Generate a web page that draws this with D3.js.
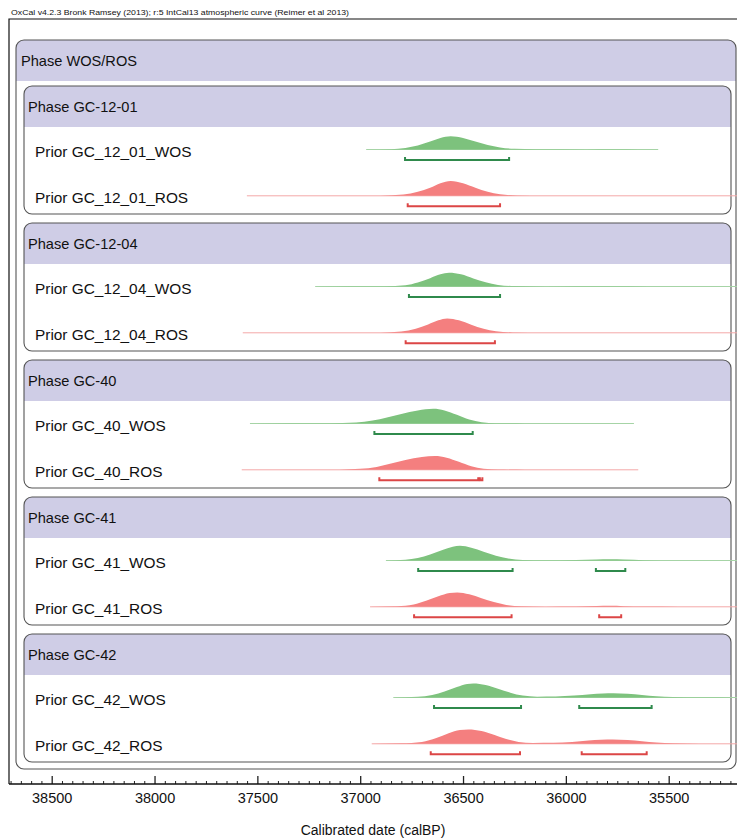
<!DOCTYPE html>
<html>
<head>
<meta charset="utf-8">
<script src="https://cdn.jsdelivr.net/npm/d3@7"></script>
<style>
  body { margin: 0; background: #fff; }
  text { font-family: "Liberation Sans", Arial, sans-serif; fill: #111; }
</style>
</head>
<body>
<svg id="chart"></svg>
<script>
// ---- data ----
const headerNote = "OxCal v4.2.3 Bronk Ramsey (2013); r:5 IntCal13 atmospheric curve (Reimer et al 2013)";
const outerPhase = "Phase WOS/ROS";
const phaseNames = ["GC-12-01", "GC-12-04", "GC-40", "GC-41", "GC-42"];
const wosLabels = ["Prior GC_12_01_WOS", "Prior GC_12_04_WOS", "Prior GC_40_WOS", "Prior GC_41_WOS", "Prior GC_42_WOS"];
const rosLabels = ["Prior GC_12_01_ROS", "Prior GC_12_04_ROS", "Prior GC_40_ROS", "Prior GC_41_ROS", "Prior GC_42_ROS"];
const majorTicks = [38500, 38000, 37500, 37000, 36500, 36000, 35500];
const axisTitle = "Calibrated date (calBP)";

// [year calBP, relative probability]
const wosDensity = [
  [[36971,0],[36850,0.02],[36780,0.1],[36720,0.25],[36660,0.5],[36610,0.72],[36560,0.83],[36500,0.72],[36440,0.5],[36380,0.28],[36320,0.13],[36250,0.04],[36150,0.01],[35900,0.005],[35760,0.012],[35650,0.005],[35551,0]],
  [[37219,0],[36880,0.01],[36780,0.08],[36720,0.25],[36660,0.52],[36610,0.76],[36568,0.86],[36510,0.76],[36450,0.5],[36390,0.26],[36330,0.1],[36250,0.03],[36100,0.005],[35800,0.01],[35600,0.005],[34900,0]],
  [[37536,0],[37150,0.01],[37020,0.06],[36940,0.18],[36870,0.38],[36800,0.6],[36720,0.82],[36645,0.92],[36590,0.82],[36530,0.55],[36470,0.25],[36410,0.08],[36340,0.02],[36200,0.005],[35669,0]],
  [[36875,0],[36780,0.04],[36720,0.15],[36660,0.38],[36600,0.66],[36550,0.86],[36515,0.92],[36460,0.8],[36400,0.55],[36340,0.3],[36280,0.12],[36210,0.03],[36100,0.01],[35950,0.03],[35850,0.07],[35786,0.08],[35720,0.06],[35620,0.02],[35450,0.005],[34900,0]],
  [[36839,0],[36720,0.04],[36650,0.15],[36590,0.38],[36530,0.65],[36480,0.84],[36450,0.875],[36390,0.78],[36330,0.55],[36270,0.3],[36210,0.12],[36140,0.05],[36050,0.06],[35960,0.12],[35880,0.2],[35820,0.25],[35769,0.27],[35700,0.24],[35630,0.16],[35560,0.08],[35480,0.03],[35350,0.01],[34900,0]]
];
const rosDensity = [
  [[37551,0],[36900,0.01],[36790,0.08],[36720,0.25],[36660,0.5],[36610,0.78],[36560,0.92],[36500,0.78],[36440,0.5],[36380,0.25],[36320,0.1],[36240,0.02],[36100,0.005],[34900,0]],
  [[37571,0],[36900,0.01],[36800,0.08],[36730,0.25],[36670,0.52],[36620,0.78],[36577,0.9],[36520,0.78],[36460,0.5],[36400,0.25],[36340,0.1],[36260,0.02],[36100,0.005],[34900,0]],
  [[37576,0],[37100,0.01],[37000,0.06],[36920,0.18],[36850,0.4],[36780,0.62],[36700,0.8],[36637,0.86],[36580,0.76],[36520,0.5],[36460,0.22],[36400,0.07],[36330,0.02],[36200,0.005],[35648,0]],
  [[36952,0],[36820,0.03],[36740,0.14],[36680,0.38],[36620,0.66],[36565,0.86],[36528,0.9],[36470,0.78],[36410,0.54],[36350,0.3],[36290,0.12],[36220,0.03],[36100,0.01],[35950,0.02],[35850,0.05],[35786,0.06],[35720,0.04],[35620,0.015],[35450,0.005],[34900,0]],
  [[36944,0],[36800,0.03],[36700,0.12],[36630,0.36],[36570,0.66],[36515,0.86],[36474,0.9],[36410,0.8],[36350,0.56],[36290,0.3],[36230,0.12],[36160,0.05],[36060,0.06],[35970,0.12],[35890,0.2],[35830,0.25],[35771,0.27],[35700,0.24],[35630,0.16],[35560,0.08],[35480,0.03],[35350,0.01],[34900,0]]
];
// 95.4% ranges [from, to]
const wosRanges = [
  [[36782,36276]],
  [[36763,36320]],
  [[36931,36453]],
  [[36718,36259],[35854,35711]],
  [[36641,36218],[35935,35583]]
];
const rosRanges = [
  [[36769,36320]],
  [[36779,36345]],
  [[36907,36426],[36418,36406]],
  [[36738,36264],[35838,35731]],
  [[36657,36223],[35923,35607]]
];

// ---- layout ----
const W = 737, H = 839;
const axisY = 784;
const boxStep = 137, firstBoxTop = 86;

const svg = d3.select("#chart").attr("width", W).attr("height", H);

const x = d3.scaleLinear().domain([38500, 35500]).range([51.7, 668.7]);
const h = d3.scaleLinear().domain([0, 1]).range([0, 16]);

const colors = {
  wos: {fill: "#7dc27d", line: "#a6d4a6", range: "#2f8a4c"},
  ros: {fill: "#f47f7f", line: "#f4a8a8", range: "#dc4646"}
};

// header note
svg.append("text")
    .attr("x", 11).attr("y", 15)
    .attr("font-size", "7.5px")
    .attr("textLength", 338)
    .attr("lengthAdjust", "spacingAndGlyphs")
    .text(headerNote);

// frame
svg.append("path")
    .attr("d", `M9,${axisY}V19H${W + 2}`)
    .attr("fill", "none").attr("stroke", "#111").attr("stroke-width", 1.2);

let clipId = 0;
function phaseBox(x0, y0, w, hgt, label, labelX) {
  const id = "clip" + (clipId++);
  svg.append("clipPath").attr("id", id)
    .append("rect").attr("x", x0).attr("y", y0).attr("width", w).attr("height", hgt).attr("rx", 8);
  svg.append("rect")
      .attr("x", x0).attr("y", y0).attr("width", w).attr("height", hgt).attr("rx", 8)
      .attr("fill", "#fff");
  svg.append("rect")
      .attr("clip-path", `url(#${id})`)
      .attr("x", x0).attr("y", y0).attr("width", w).attr("height", 41)
      .attr("fill", "#cfcde6");
  svg.append("rect")
      .attr("x", x0).attr("y", y0).attr("width", w).attr("height", hgt).attr("rx", 8)
      .attr("fill", "none").attr("stroke", "#555").attr("stroke-width", 1.1);
  svg.append("text")
      .attr("x", labelX).attr("y", y0 + 25.5)
      .attr("font-size", "14.6px")
      .text(label);
}

phaseBox(16, 40, 720, 729, outerPhase, 21);

const area = d3.area()
    .x(d => x(d[0]))
    .y0(0)
    .y1(d => -h(d[1]))
    .curve(d3.curveMonotoneX);

function prior(dens, ranges, label, base, col) {
  svg.append("text")
      .attr("x", 35).attr("y", base + 7.5)
      .attr("font-size", "15.4px")
      .text(label);

  const g = svg.append("g").attr("transform", `translate(0,${base})`);
  const ext = d3.extent(dens, d => d[0]);
  g.append("line")
      .attr("x1", x(ext[1])).attr("x2", x(ext[0]))
      .attr("stroke", col.line).attr("stroke-width", 1);
  g.append("path")
      .datum(dens)
      .attr("d", area)
      .attr("fill", col.fill);

  g.selectAll("path.range")
    .data(ranges)
    .join("path")
      .attr("class", "range")
      .attr("d", r => `M${x(r[0])},7.5V10.5H${x(r[1])}V7.5`)
      .attr("fill", "none")
      .attr("stroke", col.range)
      .attr("stroke-width", 2);
}

phaseNames.forEach((name, i) => {
  const top = firstBoxTop + i * boxStep;
  phaseBox(24, top, 707, 128, "Phase " + name, 28);
  prior(wosDensity[i], wosRanges[i], wosLabels[i], top + 63.5, colors.wos);
  prior(rosDensity[i], rosRanges[i], rosLabels[i], top + 109.8, colors.ros);
});

// axis
const minorTicks = d3.range(35200, 38701, 50).filter(v => v % 500 !== 0);

svg.append("g")
    .attr("transform", `translate(0,${axisY})`)
    .call(d3.axisBottom(x).tickValues(minorTicks).tickSizeInner(-3).tickSizeOuter(0).tickFormat(""))
    .call(g => g.select(".domain").remove())
    .call(g => g.selectAll("line").attr("stroke", "#222"));

svg.append("g")
    .attr("transform", `translate(0,${axisY})`)
    .call(d3.axisBottom(x).tickValues(majorTicks).tickSizeInner(-8).tickSizeOuter(0).tickPadding(9).tickFormat(d3.format("d")))
    .call(g => g.select(".domain").remove())
    .call(g => g.selectAll("line").attr("stroke", "#222").attr("stroke-width", 1.3))
    .call(g => g.selectAll("text").attr("font-size", "14.5px").attr("fill", "#111")
        .attr("font-family", '"Liberation Sans", Arial, sans-serif'));

svg.append("line")
    .attr("x1", 9).attr("x2", W)
    .attr("y1", axisY).attr("y2", axisY)
    .attr("stroke", "#111").attr("stroke-width", 1.6);

svg.append("text")
    .attr("x", 373).attr("y", 835)
    .attr("text-anchor", "middle")
    .attr("font-size", "14px")
    .text(axisTitle);
</script>
</body>
</html>
